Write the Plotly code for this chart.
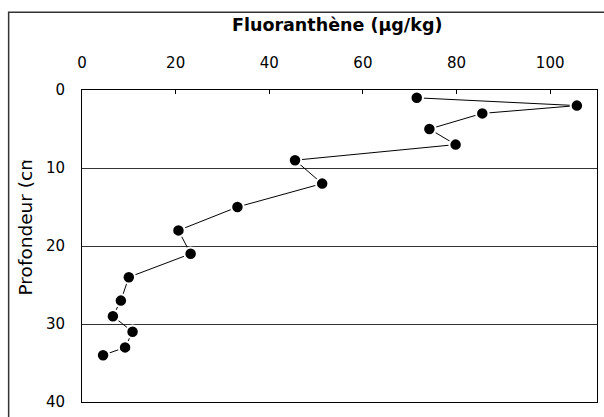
import plotly.graph_objects as go

# Fluoranthene concentration profile with depth
depth_cm = [1, 2, 3, 5, 7, 9, 12, 15, 18, 21, 24, 27, 29, 31, 33, 34]
fluoranthene = [71.5, 105.7, 85.5, 74.2, 79.8, 45.5, 51.3, 33.2, 20.6, 23.2,
                10.0, 8.3, 6.6, 10.8, 9.2, 4.5]

x_ticks = [0, 20, 40, 60, 80, 100]
y_ticks = [0, 10, 20, 30, 40]

W, H = 604, 417
L, R, T, B = 82, 6, 90, 8
pw, ph = W - L - R, H - T - B


def px_x(px):
    return (px - L) / pw


def px_y(py):
    return (H - B - py) / ph


FONT = "DejaVu Sans, sans-serif"

fig = go.Figure()
fig.add_trace(go.Scatter(
    x=fluoranthene, y=depth_cm,
    mode="lines+markers",
    line=dict(color="black", width=1),
    marker=dict(color="black", size=12.5, line=dict(color="white", width=2)),
    showlegend=False,
    cliponaxis=False,
))

fig.update_layout(
    width=W, height=H,
    margin=dict(l=L, r=R, t=T, b=B),
    paper_bgcolor="white", plot_bgcolor="white",
    font=dict(family=FONT, size=15, color="black"),
    xaxis=dict(
        side="top", range=[0, 110], tickvals=x_ticks,
        ticks="inside", ticklen=4, tickcolor="black",
        showline=True, mirror=True, linecolor="black", linewidth=1,
        showgrid=False, zeroline=False,
        ticklabelstandoff=15,
        tickfont=dict(family=FONT, size=15, color="black"),
    ),
    yaxis=dict(
        range=[40, 0], tickvals=y_ticks,
        ticks="", showline=True, mirror=True, linecolor="black", linewidth=1,
        showgrid=True, gridcolor="#333333", gridwidth=1, zeroline=False,
        ticklabelstandoff=13, ticklabeloverflow="allow",
        tickfont=dict(family=FONT, size=15, color="black"),
    ),
)

# outer chart frame (left and top edges visible)
fig.add_shape(type="rect", xref="paper", yref="paper",
              x0=px_x(8.5), x1=px_x(W + 60), y0=px_y(H + 60), y1=px_y(10.5),
              line=dict(color="#333333", width=1.5), fillcolor="rgba(0,0,0,0)")

# top axis title
fig.add_annotation(text="<b>Fluoranthène (µg/kg)</b>", xref="paper", yref="paper",
                   x=px_x(337), y=px_y(24), xanchor="center", yanchor="middle",
                   showarrow=False, font=dict(family=FONT, size=17.5, color="black"))

# vertical axis title, cut off by the chart area at the top
fig.add_annotation(text="Profondeur (cm)", xref="paper", yref="paper",
                   x=px_x(25), y=px_y(302), xanchor="center", yanchor="bottom",
                   textangle=-90, showarrow=False,
                   font=dict(family=FONT, size=18.5, color="black"))
fig.add_annotation(text=" ", xref="paper", yref="paper",
                   x=px_x(26), y=px_y(163), xanchor="center", yanchor="bottom",
                   width=28, height=60, bgcolor="white", showarrow=False)

fig.write_html("out.html")
